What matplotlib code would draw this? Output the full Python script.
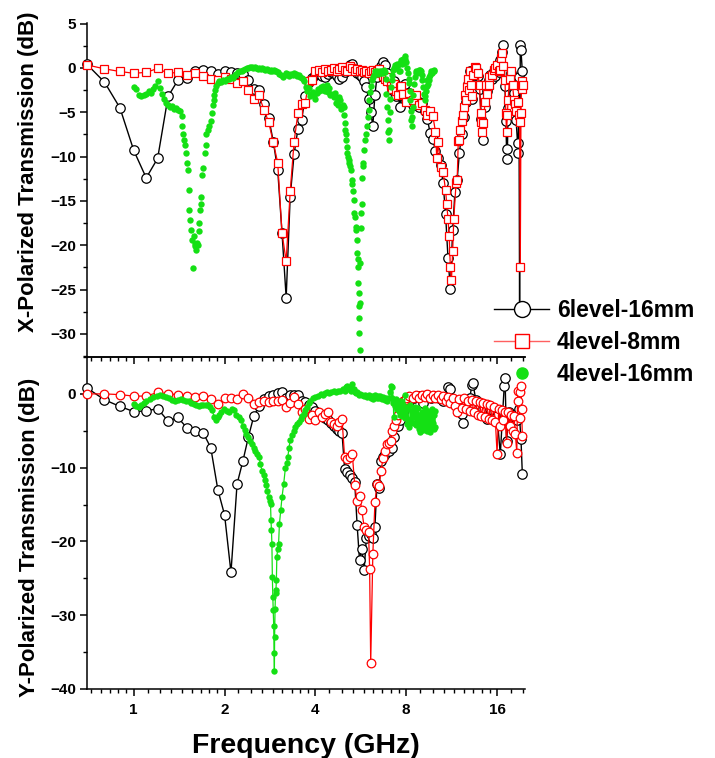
import matplotlib
matplotlib.use('Agg')
import matplotlib.pyplot as plt
from matplotlib.lines import Line2D
from matplotlib.ticker import FixedLocator, FixedFormatter, NullFormatter

plt.rcParams['font.family'] = ['Liberation Sans', 'DejaVu Sans']
plt.rcParams['font.weight'] = 'bold'

# ---------------- data (frequency GHz, transmission dB) ----------------
x_6level_16mm = [
    (0.7, 0.4), (0.8, -1.6), (0.9, -4.5), (1.0, -9.3), (1.1, -12.4), (1.2, -10.2), (1.3, -3.2), (1.4, -1.4),
    (1.5, -1.1), (1.6, -0.4), (1.7, -0.2), (1.8, -0.4), (1.9, -0.7), (2.0, -0.4), (2.1, -0.5), (2.2, -0.6),
    (2.3, -0.7), (2.4, -1.4), (2.5, -2.4), (2.6, -2.5), (2.7, -4.1), (2.8, -5.6), (2.9, -8.3), (3.0, -11.5),
    (3.1, -18.6), (3.2, -25.9), (3.3, -14.5), (3.4, -9.7), (3.5, -6.9), (3.6, -5.9), (3.7, -3.2), (3.8, -1.6),
    (3.9, -1.1), (4.0, -0.8), (4.1, -0.7), (4.2, -0.9), (4.3, -1.0), (4.4, -0.7), (4.5, -0.5), (4.6, -0.6),
    (4.7, -0.9), (4.8, -1.2), (4.9, -1.0), (5.0, -0.5), (5.1, -0.2), (5.2, 0.3), (5.3, 0.4), (5.4, -0.2),
    (5.5, -0.6), (5.6, -0.8), (5.7, -1.0), (5.8, -1.5), (5.9, -2.2), (6.0, -3.5), (6.1, -5.0), (6.2, -6.5),
    (6.3, -3.0), (6.4, -1.0), (6.5, -0.3), (6.6, 0.2), (6.7, 0.7), (6.8, 0.3), (6.9, -0.6), (7.0, -1.2),
    (7.1, -1.8), (7.2, -2.5), (7.3, -1.5), (7.4, -3.2), (7.5, -2.0), (7.6, -4.4), (7.7, -3.0), (7.8, -2.2),
    (7.9, -1.8), (8.0, -3.6), (8.2, -2.8), (8.4, -4.2), (8.6, -3.5), (8.8, -4.4), (9.0, -4.0), (9.2, -4.9),
    (9.4, -5.8), (9.6, -7.3), (9.8, -8.0), (10.0, -9.4), (10.2, -10.2), (10.4, -11.0), (10.6, -13.0),
    (10.8, -16.5), (11.0, -21.4), (11.2, -24.9), (11.4, -18.3), (11.6, -14.0), (11.8, -12.6), (12.0, -9.6),
    (12.2, -7.5), (12.4, -5.5), (12.6, -3.8), (12.8, -1.8), (13.0, -0.3), (13.2, -3.5), (13.4, -0.8),
    (13.6, -0.2), (13.8, -0.9), (14.0, -2.4), (14.2, -5.8), (14.4, -8.1), (14.6, -4.4), (14.8, -2.6),
    (15.0, -1.4), (15.2, -0.8), (15.4, -1.2), (15.6, -0.4), (15.8, -0.9), (16.0, 0.2), (16.2, -0.5),
    (16.4, 0.9), (16.6, 1.8), (16.8, 2.6), (17.0, -2.0), (17.1, -6.0), (17.2, -9.1), (17.3, -10.3),
    (17.4, -4.5), (17.6, -1.2), (17.8, -0.6), (18.0, -1.5), (18.2, -2.8), (18.4, -4.0), (18.5, -5.9),
    (18.7, -8.5), (18.8, -9.6), (18.9, -1.0), (19.0, -27.3), (19.1, 2.6), (19.2, 2.0), (19.4, -0.4),
]

x_4level_8mm = [
    (0.7, 0.34), (0.8, -0.1), (0.9, -0.4), (1.0, -0.6), (1.1, -0.5), (1.2, -0.05), (1.3, -0.6), (1.4, -0.5),
    (1.5, -0.8), (1.6, -0.6), (1.7, -0.9), (1.8, -1.2), (1.9, -1.35), (2.0, -1.0), (2.1, -1.3), (2.2, -1.65),
    (2.3, -1.5), (2.4, -2.5), (2.5, -3.5), (2.6, -3.1), (2.7, -4.7), (2.8, -6.1), (2.9, -8.4), (3.0, -10.7),
    (3.1, -18.6), (3.2, -21.8), (3.3, -13.9), (3.4, -8.3), (3.5, -5.1), (3.6, -4.1), (3.7, -4.0), (3.8, -1.5),
    (3.9, -1.4), (4.0, -0.3), (4.1, -0.2), (4.2, -0.5), (4.3, -0.1), (4.4, -0.3), (4.5, -0.2), (4.6, 0.0),
    (4.7, -0.3), (4.8, -0.1), (4.9, 0.1), (5.0, -0.2), (5.1, -0.3), (5.2, 0.2), (5.3, 0.0), (5.4, -0.3),
    (5.5, -0.1), (5.6, -0.4), (5.7, -0.2), (5.8, -0.5), (5.9, -0.3), (6.0, -0.6), (6.1, -0.4), (6.2, -0.2),
    (6.3, -0.5), (6.4, -0.3), (6.5, -0.1), (6.6, -0.6), (6.7, -0.9), (6.8, -1.2), (6.9, -1.5), (7.0, -1.0),
    (7.1, -2.0), (7.2, -2.4), (7.3, -1.8), (7.4, -2.6), (7.5, -3.0), (7.6, -2.2), (7.7, -2.0), (7.8, -2.9),
    (8.0, -3.8), (8.2, -2.8), (8.4, -3.6), (8.6, -3.0), (8.8, -4.2), (9.0, -4.0), (9.2, -4.7), (9.4, -5.3),
    (9.6, -4.9), (9.8, -5.4), (10.0, -7.2), (10.1, -10.2), (10.2, -8.4), (10.4, -11.2), (10.6, -11.7),
    (10.8, -13.8), (10.9, -15.4), (11.0, -17.0), (11.1, -19.0), (11.2, -22.4), (11.3, -23.9), (11.4, -20.7),
    (11.5, -17.0), (11.7, -13.0), (11.8, -12.6), (11.9, -8.2), (12.0, -8.1), (12.1, -7.0), (12.2, -6.0),
    (12.3, -5.3), (12.4, -4.4), (12.5, -3.0), (12.6, -3.6), (12.7, -2.1), (12.8, -1.2), (12.9, -2.5),
    (13.0, -0.4), (13.1, -1.9), (13.2, -3.2), (13.3, -0.8), (13.5, 0.15), (13.6, 0.0), (13.8, -0.6),
    (14.0, -1.9), (14.1, -5.1), (14.2, -6.1), (14.3, -7.2), (14.4, -6.2), (14.6, -3.8), (14.7, -1.9),
    (14.8, -2.9), (15.0, -1.0), (15.1, -1.9), (15.4, -0.8), (15.6, -0.2), (15.8, 0.0), (16.0, 0.3),
    (16.2, -0.4), (16.4, -0.2), (16.5, 1.1), (16.6, 1.65), (16.8, 0.2), (17.0, -1.35), (17.1, -5.1),
    (17.2, -7.2), (17.3, -5.3), (17.4, -3.6), (17.6, -1.2), (17.8, -0.4), (18.0, -1.9), (18.2, -3.6),
    (18.3, -4.1), (18.5, -4.9), (18.7, -3.8), (18.9, -5.3), (19.0, -6.1), (19.1, -22.4), (19.2, -5.1),
    (19.3, -1.5), (19.4, -2.4), (19.5, -1.9),
]

x_4level_16mm = [
    (1.00, -2.2), (1.02, -2.4), (1.04, -3.0), (1.06, -3.2), (1.08, -3.1), (1.10, -2.9), (1.12, -2.6),
    (1.14, -2.8), (1.16, -2.4), (1.18, -2.0), (1.20, -1.5), (1.22, -2.3), (1.24, -2.9), (1.26, -3.5),
    (1.28, -4.0), (1.30, -4.2), (1.32, -4.4), (1.34, -4.3), (1.36, -4.6), (1.38, -4.5), (1.40, -4.7),
    (1.42, -4.8), (1.44, -5.4), (1.45, -6.6), (1.46, -7.5), (1.47, -8.1), (1.48, -8.7), (1.49, -9.6),
    (1.50, -10.7), (1.51, -11.5), (1.52, -13.8), (1.53, -16.0), (1.54, -17.1), (1.55, -18.3), (1.56, -19.4),
    (1.57, -22.6), (1.58, -19.0), (1.59, -19.8), (1.60, -20.1), (1.61, -20.5), (1.62, -19.7), (1.63, -20.0),
    (1.64, -18.4), (1.65, -17.5), (1.66, -16.0), (1.665, -15.4), (1.67, -14.5), (1.68, -12.1), (1.70, -11.3),
    (1.72, -9.6), (1.73, -8.7), (1.74, -7.4), (1.76, -7.0), (1.78, -6.6), (1.80, -6.0), (1.82, -5.1),
    (1.83, -4.2), (1.84, -3.6), (1.85, -3.0), (1.86, -2.5), (1.88, -2.0), (1.90, -1.7), (1.92, -1.5),
    (1.95, -1.6), (1.98, -1.4), (2.01, -1.5), (2.04, -1.2), (2.07, -1.3), (2.10, -1.0), (2.13, -1.1),
    (2.16, -0.8), (2.19, -0.7), (2.22, -0.5), (2.25, -0.4), (2.28, -0.3), (2.31, -0.2), (2.34, -0.1),
    (2.37, 0.0), (2.40, 0.0), (2.43, 0.1), (2.46, 0.1), (2.49, 0.0), (2.52, 0.1), (2.55, 0.0), (2.58, -0.1),
    (2.61, 0.0), (2.64, -0.1), (2.67, 0.0), (2.70, -0.1), (2.73, -0.2), (2.76, -0.1), (2.79, -0.2),
    (2.82, -0.3), (2.85, -0.2), (2.88, -0.3), (2.91, -0.2), (2.94, -0.4), (2.97, -0.3), (3.00, -0.5),
    (3.04, -0.7), (3.08, -0.8), (3.12, -1.0), (3.16, -0.8), (3.20, -0.6), (3.24, -0.7), (3.28, -0.9),
    (3.32, -0.7), (3.36, -0.8), (3.40, -0.6), (3.44, -0.7), (3.48, -0.9), (3.52, -0.8), (3.56, -1.0),
    (3.60, -1.1), (3.64, -1.2), (3.68, -1.5), (3.72, -2.2), (3.76, -2.6), (3.80, -2.3), (3.84, -3.2),
    (3.88, -2.9), (3.92, -2.7), (3.96, -3.0), (4.00, -3.5), (4.04, -2.8), (4.08, -2.4), (4.12, -2.6),
    (4.16, -2.1), (4.20, -2.5), (4.24, -2.0), (4.28, -2.2), (4.32, -2.6), (4.36, -1.9), (4.40, -2.7),
    (4.44, -2.3), (4.48, -3.1), (4.52, -2.9), (4.56, -3.0), (4.60, -3.3), (4.64, -2.8), (4.68, -3.9),
    (4.72, -3.4), (4.76, -4.2), (4.80, -3.3), (4.84, -3.6), (4.88, -4.6), (4.92, -4.2), (4.96, -4.4),
    (4.98, -5.3), (5.00, -6.2), (5.02, -7.0), (5.04, -8.1), (5.06, -7.4), (5.08, -8.9), (5.10, -9.6),
    (5.12, -10.0), (5.15, -10.4), (5.18, -10.7), (5.21, -11.1), (5.24, -11.5), (5.27, -12.6), (5.30, -13.1),
    (5.33, -13.9), (5.36, -14.9), (5.39, -16.4), (5.42, -16.8), (5.44, -17.9), (5.46, -18.3), (5.48, -19.4),
    (5.50, -20.9), (5.52, -21.6), (5.54, -22.5), (5.55, -24.3), (5.56, -25.4), (5.57, -26.9), (5.58, -28.2),
    (5.59, -29.9), (5.60, -31.8), (5.62, -26.5), (5.64, -22.0), (5.66, -18.0), (5.68, -16.4), (5.70, -15.3),
    (5.72, -12.4), (5.74, -11.1), (5.76, -10.7), (5.80, -9.2), (5.84, -8.1), (5.88, -7.4), (5.92, -6.5),
    (5.96, -5.5), (6.00, -4.7), (6.04, -3.6), (6.08, -2.7), (6.12, -2.0), (6.16, -1.35), (6.20, -1.0),
    (6.25, -0.8), (6.30, -0.4), (6.35, -0.6), (6.40, -0.4), (6.45, -0.7), (6.50, -0.5), (6.55, -0.3),
    (6.60, -0.6), (6.65, -0.4), (6.70, -0.6), (6.75, -0.2), (6.80, -0.5), (6.85, -1.2), (6.88, -2.9),
    (6.91, -4.4), (6.94, -5.9), (6.97, -7.2), (7.00, -8.1), (7.03, -7.0), (7.06, -5.0), (7.09, -3.5),
    (7.12, -2.2), (7.15, -1.35), (7.20, -0.8), (7.25, -0.2), (7.30, 0.0), (7.35, 0.3), (7.40, 0.0),
    (7.45, 0.5), (7.50, 0.3), (7.55, -0.3), (7.60, 0.6), (7.65, -0.4), (7.70, 0.9), (7.75, 0.4),
    (7.80, 1.0), (7.85, 0.6), (7.90, 1.3), (7.95, 1.0), (8.00, 0.7), (8.05, 0.0), (8.10, -0.6),
    (8.15, -1.2), (8.20, -1.7), (8.23, -2.6), (8.26, -3.6), (8.29, -4.8), (8.32, -5.9), (8.35, -6.6),
    (8.38, -5.5), (8.41, -4.4), (8.45, -3.0), (8.50, -1.8), (8.55, -1.0), (8.60, -0.6), (8.65, -0.4),
    (8.70, -0.6), (8.75, -0.4), (8.80, -0.2), (8.85, -0.5), (8.90, -0.2), (8.95, -0.4), (9.00, -0.8),
    (9.05, -1.4), (9.10, -2.1), (9.15, -2.9), (9.20, -3.6), (9.25, -3.2), (9.30, -2.6), (9.35, -2.0),
    (9.40, -1.35), (9.45, -1.8), (9.50, -1.0), (9.55, -1.35), (9.60, -0.8), (9.65, -0.6), (9.70, -0.4),
    (9.75, -0.6), (9.80, -0.3), (9.85, -0.2), (9.90, -0.4),
]

y_6level_16mm = [
    (0.7, 0.8), (0.8, -0.8), (0.9, -1.7), (1.0, -2.4), (1.1, -2.3), (1.2, -2.0), (1.3, -3.7), (1.4, -3.2),
    (1.5, -4.6), (1.6, -5.0), (1.7, -5.3), (1.8, -7.3), (1.9, -13.0), (2.0, -16.4), (2.1, -24.2),
    (2.2, -12.2), (2.3, -9.1), (2.4, -5.8), (2.5, -3.0), (2.6, -1.7), (2.7, -0.7), (2.8, -0.3), (2.9, -0.1),
    (3.0, 0.1), (3.1, 0.3), (3.2, -0.5), (3.3, -0.1), (3.4, -0.2), (3.5, -0.1), (3.6, -0.9), (3.7, -1.1),
    (3.8, -1.5), (3.9, -1.8), (4.0, -2.3), (4.1, -2.8), (4.2, -3.0), (4.3, -3.3), (4.4, -3.6), (4.5, -4.0),
    (4.6, -4.3), (4.7, -4.7), (4.8, -5.0), (4.9, -5.3), (5.0, -10.2), (5.1, -10.6), (5.2, -11.0),
    (5.3, -11.4), (5.4, -12.0), (5.5, -17.8), (5.6, -22.5), (5.7, -21.0), (5.8, -23.9), (5.9, -19.6),
    (6.0, -19.3), (6.1, -19.0), (6.2, -19.6), (6.3, -18.0), (6.4, -12.2), (6.5, -12.7), (6.6, -9.1),
    (6.7, -8.6), (6.8, -8.2), (7.0, -7.8), (7.2, -7.3), (7.3, -5.9), (7.4, -4.3), (7.5, -4.3), (7.6, -3.5),
    (7.8, -2.5), (8.0, -1.5), (8.2, -1.0), (8.5, -0.5), (8.8, -0.3), (9.1, -1.2), (9.4, -0.2), (9.7, -0.5),
    (10.0, -0.3), (10.3, -0.6), (10.6, -0.9), (11.0, 0.9), (11.2, 0.6), (11.45, -1.2), (11.8, -1.5),
    (12.2, -2.7), (12.35, -4.0), (12.6, -1.2), (13.0, -0.5), (13.2, 1.2), (13.3, 1.5), (13.6, -0.8),
    (14.0, -1.5), (14.4, -2.0), (14.8, -3.4), (15.2, -2.0), (15.6, -2.5), (16.0, -3.0), (16.4, -8.2),
    (16.7, -2.5), (16.9, 1.1), (17.0, 2.2), (17.2, -6.4), (17.5, -2.5), (17.9, -3.0), (18.3, -2.8),
    (18.6, -3.5), (18.9, -2.0), (19.2, -6.1), (19.4, -10.8),
]

y_4level_8mm = [
    (0.7, 0.0), (0.8, 0.0), (0.9, -0.1), (1.0, -0.3), (1.1, -0.3), (1.2, 0.2), (1.3, 0.0), (1.4, -0.1),
    (1.5, -0.35), (1.6, -0.45), (1.7, -0.35), (1.8, -0.7), (1.9, -1.35), (2.0, -0.6), (2.1, -0.6),
    (2.2, -0.7), (2.3, 0.0), (2.4, -0.55), (2.5, -1.35), (2.6, -1.1), (2.7, -0.9), (2.8, -1.1), (2.9, -1.0),
    (3.0, -0.9), (3.1, -0.8), (3.2, -1.8), (3.3, -1.3), (3.4, -0.45), (3.5, -1.35), (3.6, -2.5), (3.7, -2.0),
    (3.8, -3.4), (3.9, -2.8), (4.0, -3.6), (4.1, -2.5), (4.2, -3.15), (4.3, -2.7), (4.4, -2.5), (4.5, -3.8),
    (4.6, -4.1), (4.7, -4.3), (4.8, -3.8), (4.9, -3.4), (5.0, -8.6), (5.1, -8.8), (5.2, -8.5), (5.3, -8.1),
    (5.4, -12.4), (5.5, -14.5), (5.6, -13.8), (5.7, -15.8), (5.8, -18.0), (5.9, -18.5), (6.0, -18.7),
    (6.05, -23.7), (6.1, -36.5), (6.2, -21.7), (6.3, -14.7), (6.4, -12.2), (6.5, -12.5), (6.6, -10.4),
    (6.7, -8.7), (6.8, -7.7), (6.9, -6.8), (7.0, -6.6), (7.1, -6.4), (7.2, -5.0), (7.3, -4.3), (7.4, -3.6),
    (7.5, -2.9), (7.6, -2.0), (7.7, -1.5), (7.8, -1.0), (7.9, -0.8), (8.0, -0.6), (8.2, -0.3), (8.4, -0.6),
    (8.6, -0.2), (8.8, -0.5), (9.0, -0.1), (9.2, -0.4), (9.4, 0.0), (9.6, -0.5), (9.8, -0.2), (10.0, -0.6),
    (10.2, -0.2), (10.4, -0.7), (10.6, -0.3), (10.8, -0.9), (11.0, -0.4), (11.2, -1.2), (11.4, -0.5),
    (11.6, -1.6), (11.8, -2.5), (12.0, -0.7), (12.2, -1.9), (12.4, -0.6), (12.6, -2.1), (12.8, -0.9),
    (13.0, -2.3), (13.2, -0.8), (13.4, -2.5), (13.6, -1.0), (13.8, -2.8), (14.0, -1.1), (14.2, -3.0),
    (14.4, -1.3), (14.6, -3.2), (14.8, -1.4), (15.0, -3.4), (15.2, -1.5), (15.4, -3.5), (15.6, -1.8),
    (15.8, -3.8), (16.0, -8.1), (16.2, -2.0), (16.4, -4.3), (16.6, -2.2), (16.8, -3.6), (17.0, -2.5),
    (17.2, -6.6), (17.4, -2.4), (17.6, -4.4), (17.8, -2.8), (18.0, -5.0), (18.2, -3.0), (18.4, -5.5),
    (18.6, -8.0), (18.7, -0.9), (18.8, 0.4), (19.0, -3.3), (19.1, 0.2), (19.2, 1.1), (19.3, -2.0),
    (19.4, -5.7),
]

y_4level_16mm = [
    (1.00, -1.4), (1.02, -1.6), (1.04, -1.8), (1.06, -1.5), (1.08, -1.2), (1.10, -0.9), (1.13, -0.7),
    (1.16, -0.45), (1.19, -0.3), (1.22, -0.2), (1.25, -0.3), (1.28, -0.45), (1.31, -0.6), (1.34, -0.8),
    (1.37, -0.9), (1.40, -0.8), (1.43, -0.7), (1.46, -0.8), (1.49, -0.9), (1.52, -1.0), (1.55, -1.2),
    (1.58, -1.35), (1.61, -1.5), (1.64, -1.6), (1.67, -1.5), (1.70, -1.45), (1.73, -1.5), (1.76, -1.45),
    (1.79, -1.8), (1.82, -2.25), (1.85, -3.2), (1.87, -3.6), (1.90, -3.2), (1.92, -2.9), (1.95, -2.4),
    (1.99, -2.0), (2.03, -2.3), (2.07, -2.5), (2.11, -2.1), (2.15, -2.25), (2.19, -2.8), (2.23, -3.15),
    (2.27, -3.6), (2.30, -4.3), (2.33, -4.9), (2.36, -5.4), (2.40, -5.9), (2.43, -6.4), (2.47, -6.8),
    (2.50, -7.3), (2.53, -7.7), (2.56, -8.2), (2.60, -8.6), (2.63, -9.5), (2.66, -10.4), (2.70, -11.0),
    (2.73, -11.7), (2.75, -12.4), (2.77, -13.1), (2.80, -14.0), (2.82, -14.5), (2.84, -14.9), (2.85, -17.1),
    (2.86, -18.5), (2.87, -20.3), (2.88, -24.8), (2.89, -27.5), (2.90, -29.3), (2.91, -31.5), (2.92, -35.1),
    (2.925, -37.6), (2.93, -32.9), (2.94, -29.1), (2.95, -27.0), (2.96, -26.6), (2.97, -25.2), (2.98, -22.1),
    (3.00, -21.0), (3.02, -20.3), (3.04, -17.6), (3.07, -15.8), (3.10, -14.0), (3.14, -12.2), (3.18, -10.1),
    (3.21, -9.3), (3.24, -8.6), (3.27, -7.3), (3.30, -6.3), (3.34, -5.6), (3.39, -5.0), (3.43, -4.5),
    (3.48, -4.1), (3.52, -3.8), (3.57, -3.4), (3.62, -3.0), (3.66, -2.7), (3.70, -2.2), (3.75, -1.8),
    (3.80, -1.3), (3.85, -0.9), (3.92, -0.6), (4.00, -0.45), (4.08, -0.3), (4.16, 0.0), (4.25, -0.1),
    (4.30, 0.1), (4.37, 0.2), (4.45, 0.1), (4.52, 0.3), (4.60, 0.45), (4.68, 0.2), (4.76, 0.4), (4.84, 0.45),
    (4.92, 0.6), (5.00, 0.4), (5.05, 0.9), (5.10, 1.1), (5.15, 0.6), (5.20, 0.8), (5.25, 0.4), (5.30, 1.3),
    (5.35, 0.7), (5.40, 0.3), (5.45, 0.1), (5.50, 0.2), (5.56, -0.1), (5.63, 0.0), (5.70, -0.2),
    (5.78, -0.3), (5.86, -0.1), (5.94, -0.4), (6.02, -0.2), (6.10, -0.5), (6.18, -0.3), (6.23, -0.7),
    (6.30, -0.2), (6.38, -0.5), (6.45, -0.3), (6.52, -0.6), (6.57, -0.3), (6.64, -0.7), (6.70, -0.45),
    (6.78, -0.8), (6.85, -0.5), (6.92, -1.0), (7.00, -0.6), (7.05, 0.2), (7.10, 1.1), (7.15, -0.5),
    (7.20, 0.9), (7.25, -1.2), (7.27, -3.2), (7.30, -0.9), (7.35, -1.6), (7.40, -0.7), (7.45, -2.0),
    (7.50, -1.0), (7.55, -2.3), (7.60, -1.3), (7.65, -2.8), (7.70, -1.0), (7.75, -3.0), (7.80, -1.5),
    (7.85, -2.5), (7.90, -0.2), (7.95, -3.3), (8.00, -1.8), (8.05, -4.1), (8.10, -2.0), (8.15, -3.5),
    (8.20, -4.5), (8.25, -1.5), (8.30, -3.8), (8.35, -2.4), (8.40, -4.0), (8.45, -2.2), (8.50, -3.2),
    (8.55, -1.8), (8.60, -4.2), (8.65, -2.6), (8.70, -3.6), (8.75, -1.9), (8.80, -4.8), (8.85, -2.8),
    (8.90, -5.2), (8.95, -3.0), (9.00, -4.4), (9.05, -2.4), (9.10, -4.9), (9.15, -2.7), (9.20, -3.9),
    (9.25, -1.9), (9.30, -4.6), (9.35, -2.9), (9.40, -5.0), (9.45, -2.3), (9.50, -4.2), (9.55, -3.1),
    (9.60, -5.2), (9.65, -2.6), (9.70, -4.6), (9.75, -2.0), (9.80, -4.0), (9.85, -2.8), (9.90, -4.8),
    (9.95, -2.3), (9.98, -4.5),
]

series_labels = ['6level-16mm', '4level-8mm', '4level-16mm']
x_ticks = [1, 2, 4, 8, 16]
x_tick_labels = ['1', '2', '4', '8', '16']
top_yticks = [-30, -25, -20, -15, -10, -5, 0, 5]
bottom_yticks = [-40, -30, -20, -10, 0]

GREEN = '#14e014'
RED = '#ff0000'

# ---------------- figure ----------------
W, H = 715, 758
fig = plt.figure(figsize=(W / 100, H / 100), dpi=100)
ax1 = fig.add_axes([87 / W, 1 - 357 / H, 438 / W, 334 / H])
ax2 = fig.add_axes([87 / W, 1 - 689 / H, 438 / W, 332 / H])


def unzip(pairs):
    return [p[0] for p in pairs], [p[1] for p in pairs]


def draw(ax, black, red, green, green_line):
    f, v = unzip(black)
    ax.plot(f, v, color='black', lw=1.0, marker='o', ms=6.8, mfc='white', mec='black', mew=0.9,
            zorder=3, clip_on=False)
    f, v = unzip(red)
    ax.plot(f, v, color=RED, lw=0.9, marker=('s' if ax is ax1 else 'o'), ms=6.2, mfc='white', mec=RED,
            mew=0.9, zorder=4, clip_on=False)
    f, v = unzip(green)
    ax.plot(f, v, color=GREEN, lw=(0.9 if green_line else 0), ls=('-' if green_line else 'none'),
            marker='o', ms=4.6, mfc=GREEN, mec=GREEN, mew=0, zorder=5, clip_on=False)


draw(ax1, x_6level_16mm, x_4level_8mm, x_4level_16mm, False)
draw(ax2, y_6level_16mm, y_4level_8mm, y_4level_16mm, True)

xmin, xmax = 0.70, 19.8
minor_x = sorted(2 ** n * (1 + k / 9) for n in range(-1, 5) for k in range(1, 9))
minor_x = [m for m in minor_x if xmin <= m <= xmax]

for ax in (ax1, ax2):
    ax.set_xscale('log', base=2)
    ax.set_xlim(xmin, xmax)
    ax.xaxis.set_major_locator(FixedLocator(x_ticks))
    ax.xaxis.set_minor_locator(FixedLocator(minor_x))
    ax.spines['right'].set_visible(False)
    for s in ax.spines.values():
        s.set_linewidth(1.1)
    ax.tick_params(axis='both', which='major', direction='out', length=5, width=1.1,
                   labelsize=11, pad=3)
    ax.tick_params(axis='both', which='minor', direction='out', length=2.8, width=1.0)
    ax.patch.set_alpha(0)

ax1.spines['top'].set_visible(False)
ax1.set_ylim(-32.6, 5.07)
ax1.set_yticks(top_yticks)
ax1.set_yticks([t + 2.5 for t in top_yticks[:-1]] + [-32.5], minor=True)
ax1.xaxis.set_major_formatter(NullFormatter())
ax1.xaxis.set_minor_formatter(NullFormatter())

ax2.set_ylim(-40, 4.9)
ax2.set_yticks(bottom_yticks)
ax2.set_yticks([t + 5 for t in bottom_yticks], minor=True)
ax2.xaxis.set_major_formatter(FixedFormatter(x_tick_labels))
ax2.xaxis.set_minor_formatter(NullFormatter())
ax2.tick_params(axis='x', which='major', pad=5)

for ax in (ax1, ax2):
    for lab in ax.get_xticklabels() + ax.get_yticklabels():
        lab.set_fontweight('bold')

fig.text(29 / W, 1 - 172 / H, 'X-Polarized Transmission (dB)', rotation=90, ha='center', va='center',
         fontsize=16, fontweight='bold')
fig.text(30 / W, 1 - 537 / H, 'Y-Polarized Transmission (dB)', rotation=90, ha='center', va='center',
         fontsize=16, fontweight='bold')
fig.text(306 / W, 1 - 753 / H, 'Frequency (GHz)', ha='center', va='baseline',
         fontsize=20.5, fontweight='bold')

handles = [
    Line2D([], [], color='black', lw=1.0, marker='o', ms=11.5, mfc='white', mec='black', mew=1.0),
    Line2D([], [], color='#ff6060', lw=1.0, marker='s', ms=10.5, mfc='white', mec=RED, mew=1.0),
    Line2D([], [], ls='none', marker='o', ms=8, mfc=GREEN, mec=GREEN),
]
fig.legend(handles, series_labels, loc='upper left', bbox_to_anchor=(494 / W, 1 - 299 / H),
           frameon=False, prop={'weight': 'bold', 'size': 16.5}, handlelength=2.4,
           handletextpad=0.35, labelspacing=0.39, borderpad=0, borderaxespad=0)

fig.savefig('out.png', dpi=100)
